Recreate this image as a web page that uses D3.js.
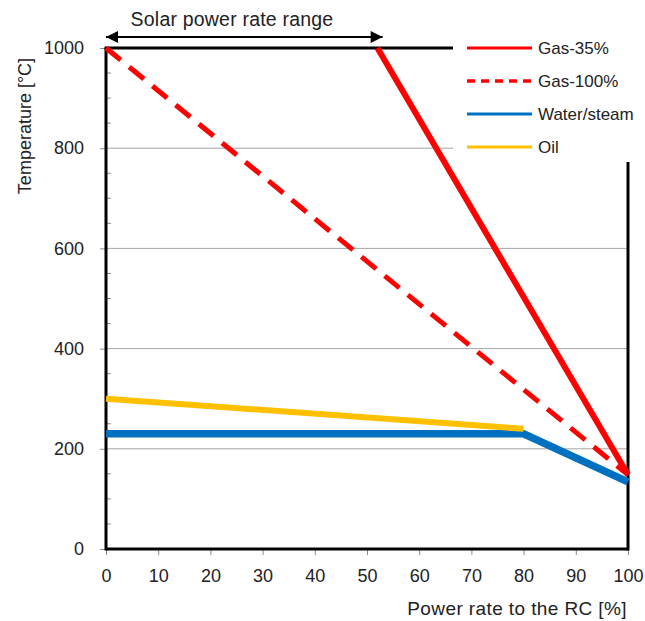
<!DOCTYPE html>
<html>
<head>
<meta charset="utf-8">
<script src="https://cdn.jsdelivr.net/npm/d3@7"></script>
<style>
  body { margin: 0; background: #fff; }
  svg text { font-family: "Liberation Sans", Arial, sans-serif; fill: #222; }
</style>
</head>
<body>
<svg id="chart" width="645" height="621"></svg>
<script>
// Power rate (%) vs temperature (°C) for each heat transfer fluid
const gas35X = [52, 100];
const gas35Y = [1000, 148];
const gas100X = [0, 100];
const gas100Y = [1000, 148];
const waterX = [0, 80, 100];
const waterY = [230, 230, 134];
const oilX = [0, 80];
const oilY = [300, 240];

const seriesNames = ["Gas-35%", "Gas-100%", "Water/steam", "Oil"];
const seriesColors = ["#FF0000", "#FF0000", "#0070C0", "#FFC000"];
const xTicks = [0, 10, 20, 30, 40, 50, 60, 70, 80, 90, 100];
const yTicks = [0, 200, 400, 600, 800, 1000];
const solarRange = [0, 53];

const svg = d3.select("#chart");
const x = d3.scaleLinear().domain([0, 100]).range([106, 628]);
const y = d3.scaleLinear().domain([0, 1000]).range([549, 48]);
const FONT = "Liberation Sans, Arial, sans-serif";

// Gridlines
svg.append("g").selectAll("line")
  .data(yTicks.filter(v => v > 0 && v < 1000))
  .join("line")
  .attr("x1", x(0)).attr("x2", x(100))
  .attr("y1", d => y(d)).attr("y2", d => y(d))
  .attr("stroke", "#a6a6a6").attr("stroke-width", 1);

// Y axis: outward major ticks, inward minor ticks every 50
const yAxis = d3.axisLeft(y).tickValues(yTicks).tickFormat(d3.format("d")).tickSize(6).tickPadding(16);
const gy = svg.append("g").attr("transform", `translate(${x(0)},0)`).call(yAxis);
gy.select(".domain").remove();
gy.selectAll(".tick line").attr("stroke", "#8c8c8c");
gy.selectAll(".tick text").attr("font-size", 18).attr("font-family", FONT).attr("fill", "#222");

const minorY = d3.range(50, 1000, 50).filter(v => v % 200 !== 0);
svg.append("g").selectAll("line").data(minorY).join("line")
  .attr("x1", x(0)).attr("x2", x(0) + 5)
  .attr("y1", d => y(d)).attr("y2", d => y(d))
  .attr("stroke", "#8c8c8c").attr("stroke-width", 1);

// X axis
const xAxis = d3.axisBottom(x).tickValues(xTicks).tickSize(6).tickPadding(14);
const gx = svg.append("g").attr("transform", `translate(0,${y(0)})`).call(xAxis);
gx.select(".domain").remove();
gx.selectAll(".tick line").attr("stroke", "#8c8c8c");
gx.selectAll(".tick text").attr("font-size", 18).attr("font-family", FONT).attr("fill", "#222");

// Frame
const frame = svg.append("g").attr("stroke", "#000").attr("stroke-width", 3).attr("fill", "none");
frame.append("line").attr("x1", x(0)).attr("x2", x(0)).attr("y1", y(1000)).attr("y2", y(0) + 1.5);
frame.append("line").attr("x1", x(0)).attr("x2", x(100)).attr("y1", y(0)).attr("y2", y(0));
frame.append("line").attr("x1", x(100)).attr("x2", x(100)).attr("y1", y(0) + 1.5).attr("y2", y(1000));
frame.append("line").attr("x1", x(0) - 1.5).attr("x2", x(100)).attr("y1", y(1000)).attr("y2", y(1000));

// Series
const line = d3.line().x(d => x(d[0])).y(d => y(d[1]));
const zip = (xs, ys) => xs.map((v, i) => [v, ys[i]]);

svg.append("path").datum(zip(waterX, waterY)).attr("d", line)
  .attr("fill", "none").attr("stroke", seriesColors[2]).attr("stroke-width", 7.5);
svg.append("path").datum(zip(oilX, oilY)).attr("d", line)
  .attr("fill", "none").attr("stroke", seriesColors[3]).attr("stroke-width", 6);
svg.append("path").datum(zip(gas100X, gas100Y)).attr("d", line)
  .attr("fill", "none").attr("stroke", seriesColors[1]).attr("stroke-width", 5)
  .attr("stroke-dasharray", "19,11");
svg.append("path").datum(zip(gas35X, gas35Y)).attr("d", line)
  .attr("fill", "none").attr("stroke", seriesColors[0]).attr("stroke-width", 6);

// Legend box
const lg = svg.append("g");
lg.append("rect").attr("x", 453).attr("y", 30).attr("width", 192).attr("height", 132).attr("fill", "#fff");
seriesNames.forEach((name, i) => {
  const ly = 48 + i * 33;
  lg.append("line").attr("x1", 467).attr("x2", 532).attr("y1", ly).attr("y2", ly)
    .attr("stroke", seriesColors[i]).attr("stroke-width", i === 1 ? 3.5 : 3)
    .attr("stroke-dasharray", i === 1 ? "8,6" : null);
  lg.append("text").attr("x", 538).attr("y", ly + 6).attr("font-size", 17).text(name);
});

// Solar power rate range arrow
const defs = svg.append("defs");
defs.append("marker").attr("id", "arrowhead").attr("viewBox", "0 0 10 10")
  .attr("refX", 10).attr("refY", 5).attr("markerWidth", 14).attr("markerHeight", 12)
  .attr("markerUnits", "userSpaceOnUse").attr("orient", "auto-start-reverse")
  .append("path").attr("d", "M0,0 L10,5 L0,10 Z").attr("fill", "#000");
svg.append("line")
  .attr("x1", x(solarRange[0])).attr("x2", x(solarRange[1]))
  .attr("y1", 37).attr("y2", 37)
  .attr("stroke", "#000").attr("stroke-width", 2)
  .attr("marker-start", "url(#arrowhead)").attr("marker-end", "url(#arrowhead)");
svg.append("text").attr("x", 232).attr("y", 26).attr("text-anchor", "middle")
  .attr("font-size", 19.5).attr("letter-spacing", 0.2).text("Solar power rate range");

// Axis titles
svg.append("text").attr("x", 627).attr("y", 615).attr("text-anchor", "end")
  .attr("font-size", 19).attr("letter-spacing", 0.4).text("Power rate to the RC [%]");
svg.append("text").attr("transform", "translate(31,126) rotate(-90)")
  .attr("text-anchor", "middle").attr("font-size", 18).text("Temperature [°C]");
</script>
</body>
</html>
